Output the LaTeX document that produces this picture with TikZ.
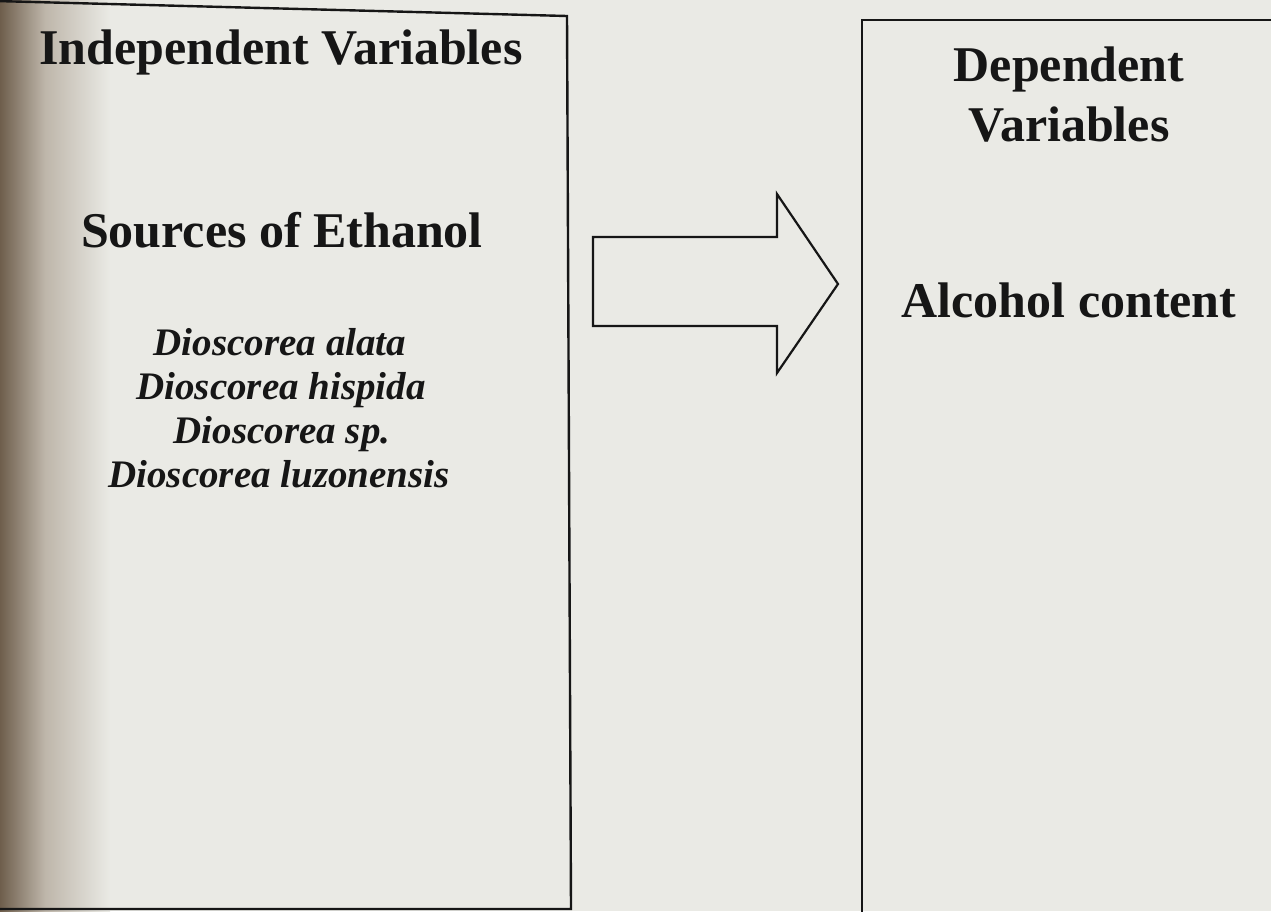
\documentclass[tikz,border=0pt]{standalone}
\usepackage{fontspec}
\setmainfont{Liberation Serif}
\definecolor{pagebg}{RGB}{234,234,229}
\definecolor{ink}{RGB}{22,22,22}
\definecolor{shadowdark}{RGB}{110,94,76}
\definecolor{shadowmid}{RGB}{190,182,170}
\begin{document}
\begin{tikzpicture}[x=1pt,y=-1pt,
  heading/.style={font=\fontsize{50}{60}\selectfont\bfseries, text=ink, anchor=base, inner sep=0pt},
  species/.style={font=\fontsize{39}{45}\selectfont\bfseries\itshape, text=ink, anchor=base, inner sep=0pt},
  boxline/.style={draw=ink, line width=2.4pt, line join=miter},
  arrowline/.style={draw=ink, line width=2.2pt, line join=miter}]
\useasboundingbox (0,0) rectangle (1271,911);
\fill[pagebg] (0,0) rectangle (1271,911);
\shade[left color=shadowdark, right color=shadowmid] (0,0) rectangle (45,911);
\shade[left color=shadowmid, right color=pagebg] (45,0) rectangle (110,911);
% left box (independent variables)
\draw[boxline] (-5,1) -- (567,16) -- (571,909) -- (-5,909);
% right box (dependent variables)
\draw[boxline] (862,916) -- (862,20) -- (1276,20);
% block arrow
\coordinate (sa) at (593,237);
\coordinate (sb) at (777,237);
\coordinate (ht) at (777,194);
\coordinate (tip) at (838,284);
\coordinate (hb) at (777,373);
\coordinate (sc) at (777,326);
\coordinate (sd) at (593,326);
\draw[arrowline] (sa) -- (sb) -- (ht) -- (tip) -- (hb) -- (sc) -- (sd) -- cycle;
% texts
\node[heading] (indep) at (281,64) {Independent Variables};
\node[heading] (src) at (282,247) {Sources of Ethanol};
\node[species] (s1) at (280,355) {Dioscorea alata};
\node[species] (s2) at (281,399) {Dioscorea hispida};
\node[species] (s3) at (282,443) {Dioscorea sp.};
\node[species] (s4) at (279,487) {Dioscorea luzonensis};
\node[heading] (dep1) at (1069,81) {Dependent};
\node[heading] (dep2) at (1069,141) {Variables};
\node[heading] (alc) at (1069,317) {Alcohol content};
\end{tikzpicture}
\end{document}
